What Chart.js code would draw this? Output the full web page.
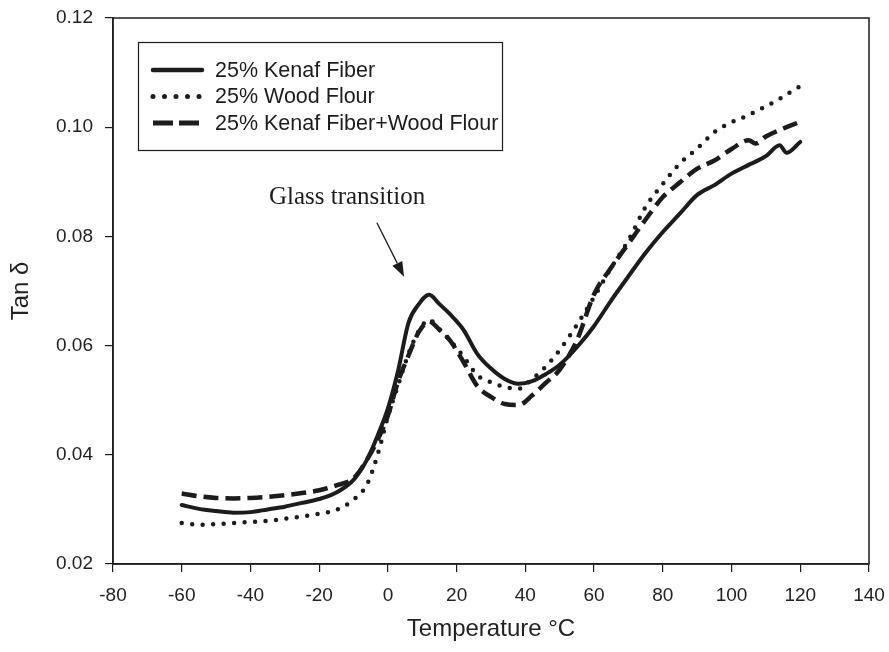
<!DOCTYPE html>
<html>
<head>
<meta charset="utf-8">
<script src="https://cdn.jsdelivr.net/npm/chart.js@4.4.0/dist/chart.umd.min.js"></script>
<style>
  html, body { margin: 0; padding: 0; background: #fff; }
</style>
</head>
<body>
<canvas id="tanChart" width="889" height="652"></canvas>
<script>
// temperature (°C) readings shared by the three curves
const temps = [-60, -55, -50, -45, -40, -35, -30, -25, -20, -15, -10, -6, -3, 0, 3, 6, 9, 12, 15, 18,
  22, 26, 30, 34, 38, 42, 46, 50, 55, 60, 65, 70, 75, 80, 85, 90, 95, 100, 105, 107, 110, 114, 116, 120];

const kenafFiber = [0.0308, 0.0301, 0.0297, 0.0294, 0.0295, 0.0300, 0.0305, 0.0312, 0.0319, 0.0331,
  0.0354, 0.0392, 0.0435, 0.0485, 0.0555, 0.0642, 0.0676, 0.0693, 0.0676, 0.0658,
  0.0629, 0.0585, 0.0558, 0.0539, 0.0530, 0.0535, 0.0548, 0.0565, 0.0597, 0.0636,
  0.0683, 0.0727, 0.0770, 0.0808, 0.0842, 0.0876, 0.0894, 0.0915, 0.0931, 0.0937,
  0.0947, 0.0967, 0.0953, 0.0973];

const woodFlour = [0.0275, 0.0272, 0.0273, 0.0275, 0.0277, 0.0279, 0.0283, 0.0287, 0.0292, 0.0299,
  0.0318, 0.0347, 0.0400, 0.0470, 0.0528, 0.0585, 0.0627, 0.0647, 0.0630, 0.0610,
  0.0580, 0.0546, 0.0533, 0.0524, 0.0521, 0.0539, 0.0562, 0.0592, 0.0638, 0.0689,
  0.0743, 0.0793, 0.0854, 0.0896, 0.0934, 0.0961, 0.0991, 0.1009, 0.1022, 0.1029,
  0.1038, 0.1052, 0.1060, 0.1075];

const kenafWood = [0.0329, 0.0324, 0.0321, 0.0320, 0.0321, 0.0323, 0.0326, 0.0330, 0.0335, 0.0344,
  0.0357, 0.0392, 0.0427, 0.0472, 0.0535, 0.0582, 0.0625, 0.0644, 0.0629, 0.0610,
  0.0570, 0.0526, 0.0506, 0.0493, 0.0491, 0.0509, 0.0532, 0.0556, 0.0610, 0.0694,
  0.0743, 0.0787, 0.0831, 0.0872, 0.0899, 0.0924, 0.0939, 0.0960, 0.0976, 0.0970,
  0.0983, 0.0995, 0.1000, 0.1010];

const seriesNames = ["25% Kenaf Fiber", "25% Wood Flour", "25% Kenaf Fiber+Wood Flour"];
const xRange = [-80, 140];
const yRange = [0.02, 0.12];
const noteText = "Glass transition";

const ink = "#1c1c1c";
const sans = "'Liberation Sans', Arial, sans-serif";

function toPoints(values) {
  return temps.map((t, i) => ({ x: t, y: values[i] }));
}

// frame, legend box and the glass transition note
const extras = {
  id: "extras",
  afterDraw(chart) {
    const ctx = chart.ctx;
    const area = chart.chartArea;
    const xs = chart.scales.x;
    const ys = chart.scales.y;

    ctx.save();
    ctx.strokeStyle = ink;
    ctx.lineWidth = 1.5;
    ctx.setLineDash([]);
    ctx.strokeRect(area.left, area.top, area.right - area.left, area.bottom - area.top);

    // legend
    ctx.lineWidth = 1.2;
    ctx.strokeRect(138.5, 42.5, 364, 108);
    ctx.font = "21.5px " + sans;
    ctx.fillStyle = ink;
    ctx.textBaseline = "middle";
    chart.data.datasets.forEach((ds, i) => {
      const y = 70 + i * 26.5;
      ctx.beginPath();
      ctx.lineWidth = ds.borderWidth + 0.5;
      ctx.lineCap = ds.borderCapStyle || "butt";
      ctx.setLineDash(ds.legendDash || ds.borderDash || []);
      ctx.moveTo(153, y);
      ctx.lineTo(202, y);
      ctx.stroke();
      ctx.setLineDash([]);
      ctx.fillText(ds.label, 215, y + 1);
    });

    // note + arrow
    ctx.font = "25px 'Liberation Serif', 'Times New Roman', serif";
    ctx.textAlign = "center";
    ctx.textBaseline = "alphabetic";
    ctx.fillText(noteText, xs.getPixelForValue(-11.9), ys.getPixelForValue(0.0860));

    const x0 = xs.getPixelForValue(-3.2), y0 = ys.getPixelForValue(0.0825);
    const x1 = xs.getPixelForValue(4.7), y1 = ys.getPixelForValue(0.0726);
    const ang = Math.atan2(y1 - y0, x1 - x0);
    const headLen = 15, headW = 5.5;
    const bx = x1 - headLen * Math.cos(ang), by = y1 - headLen * Math.sin(ang);
    ctx.lineWidth = 1.3;
    ctx.lineCap = "butt";
    ctx.beginPath();
    ctx.moveTo(x0, y0);
    ctx.lineTo(bx, by);
    ctx.stroke();
    ctx.beginPath();
    ctx.moveTo(x1, y1);
    ctx.lineTo(bx + headW * Math.sin(ang), by - headW * Math.cos(ang));
    ctx.lineTo(bx - headW * Math.sin(ang), by + headW * Math.cos(ang));
    ctx.closePath();
    ctx.fill();
    ctx.restore();
  }
};

const ctx = document.getElementById("tanChart").getContext("2d");
const chart = new Chart(ctx, {
  type: "line",
  data: {
    datasets: [
      {
        label: seriesNames[0],
        data: toPoints(kenafFiber),
        borderColor: ink,
        borderWidth: 4,
        borderCapStyle: "round",
        borderJoinStyle: "round"
      },
      {
        label: seriesNames[1],
        data: toPoints(woodFlour),
        borderColor: ink,
        borderWidth: 4.5,
        borderDash: [0, 10.5],
        legendDash: [0, 11.5],
        borderCapStyle: "round"
      },
      {
        label: seriesNames[2],
        data: toPoints(kenafWood),
        borderColor: ink,
        borderWidth: 4.5,
        borderDash: [15, 7],
        legendDash: [20, 6],
        borderCapStyle: "butt"
      }
    ]
  },
  options: {
    responsive: false,
    animation: false,
    layout: { padding: { top: 18, right: 20, left: 0, bottom: 0 } },
    elements: {
      point: { radius: 0 },
      line: { tension: 0, cubicInterpolationMode: "monotone", fill: false }
    },
    plugins: {
      legend: { display: false },
      tooltip: { enabled: false }
    },
    scales: {
      x: {
        type: "linear",
        min: xRange[0],
        max: xRange[1],
        afterFit(scale) {
          scale.height = 88;
          scale.paddingLeft = 0;
          scale.paddingRight = 0;
        },
        ticks: {
          stepSize: 20,
          padding: 12,
          color: "#222",
          font: { family: sans, size: 19 }
        },
        grid: { drawOnChartArea: false, drawTicks: true, tickLength: 8, color: ink, lineWidth: 1.2 },
        border: { display: true, color: ink, width: 1.5 },
        title: {
          display: true,
          text: "Temperature °C",
          color: "#222",
          font: { family: sans, size: 24 },
          padding: { top: 0, bottom: 8 }
        }
      },
      y: {
        type: "linear",
        min: yRange[0],
        max: yRange[1],
        afterFit(scale) {
          scale.width = 113;
          scale.paddingTop = 0;
          scale.paddingBottom = 0;
        },
        ticks: {
          stepSize: 0.02,
          padding: 12,
          color: "#222",
          font: { family: sans, size: 19 },
          callback: v => v.toFixed(2)
        },
        grid: { drawOnChartArea: false, drawTicks: true, tickLength: 8, color: ink, lineWidth: 1.2 },
        border: { display: true, color: ink, width: 1.5 },
        title: {
          display: true,
          text: "Tan δ",
          color: "#222",
          font: { family: sans, size: 24 },
          padding: { top: 7, bottom: 0 }
        }
      }
    }
  },
  plugins: [extras]
});
</script>
</body>
</html>
